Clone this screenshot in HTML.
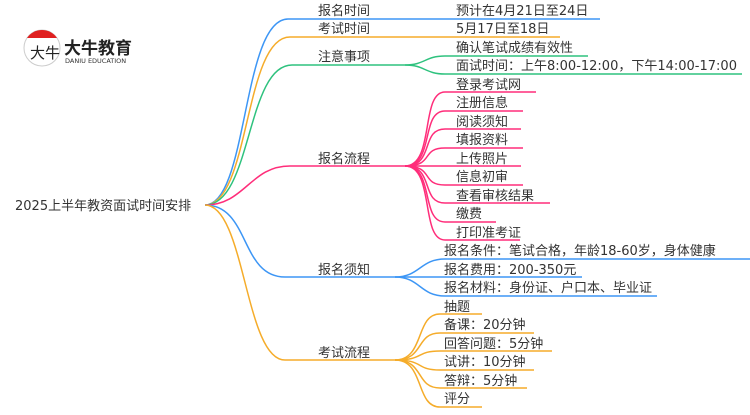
<!DOCTYPE html>
<html><head><meta charset="utf-8"><style>
body{margin:0;background:#fff;width:750px;height:410px;overflow:hidden}
svg text{font-family:"DejaVu Sans","Noto Sans CJK SC",sans-serif;fill:#333}
</style></head><body>
<svg width="750" height="410" viewBox="0 0 750 410" xmlns="http://www.w3.org/2000/svg">
<g fill="none" stroke-width="1.5">
<path d="M205,205 C248,205 242,19 288,19 H600" stroke="#3d96f5"/>
<path d="M205,205 C250,205 244,37 290,37 H560" stroke="#f5ac2a"/>
<path d="M205,205 C252,205 246,65 292,65 H405" stroke="#2ec27e"/>
<path d="M405,65 C425,65 425,56 445,56 H588" stroke="#2ec27e"/>
<path d="M405,65 C425,65 425,74 445,74 H742" stroke="#2ec27e"/>
<path d="M205,205 C245,205 250,166 290,166 H405" stroke="#ff2d7a"/>
<g stroke="#ff2d7a">
<path d="M405,166 C435,166 420,92 445,92 H536"/>
<path d="M405,166 C435,166 420,111 445,111 H523"/>
<path d="M405,166 C435,166 420,129 445,129 H521"/>
<path d="M405,166 C435,166 420,148 445,148 H523"/>
<path d="M405,166 H521"/>
<path d="M405,166 C435,166 420,185 445,185 H523"/>
<path d="M405,166 C435,166 420,203 445,203 H550"/>
<path d="M405,166 C435,166 420,222 445,222 H496"/>
<path d="M405,166 C435,166 420,240 445,240 H520"/>
</g>
<path d="M205,205 C250,205 240,277 285,277 H395" stroke="#3d96f5"/>
<path d="M395,277 C420,277 420,259 445,259 H750" stroke="#3d96f5"/>
<path d="M395,277 H582" stroke="#3d96f5"/>
<path d="M395,277 C420,277 420,296 445,296 H657" stroke="#3d96f5"/>
<path d="M205,205 C245,205 245,360 285,360 H395" stroke="#f5ac2a"/>
<g stroke="#f5ac2a">
<path d="M395,360 C425,360 415,314 440,314 H482"/>
<path d="M395,360 C425,360 415,333 440,333 H534"/>
<path d="M395,360 C425,360 415,351 440,351 H552"/>
<path d="M395,360 C425,360 415,370 440,370 H534"/>
<path d="M395,360 C425,360 415,388 440,388 H527"/>
<path d="M395,360 C425,360 415,407 440,407 H482"/>
</g>
</g>
<g font-size="13">
<text x="318" y="15">报名时间</text>
<text x="318" y="33">考试时间</text>
<text x="318" y="61">注意事项</text>
<text x="318" y="163">报名流程</text>
<text x="318" y="274">报名须知</text>
<text x="318" y="357">考试流程</text>
<text x="456" y="15">预计在4月21日至24日</text>
<text x="456" y="33">5月17日至18日</text>
<text x="456" y="52">确认笔试成绩有效性</text>
<text x="456" y="70">面试时间：上午8:00-12:00，下午14:00-17:00</text>
<text x="456" y="89">登录考试网</text>
<text x="456" y="107">注册信息</text>
<text x="456" y="126">阅读须知</text>
<text x="456" y="144">填报资料</text>
<text x="456" y="163">上传照片</text>
<text x="456" y="181">信息初审</text>
<text x="456" y="200">查看审核结果</text>
<text x="456" y="218">缴费</text>
<text x="456" y="237">打印准考证</text>
<text x="444" y="255">报名条件：笔试合格，年龄18-60岁，身体健康</text>
<text x="444" y="274">报名费用：200-350元</text>
<text x="444" y="292">报名材料：身份证、户口本、毕业证</text>
<text x="444" y="311">抽题</text>
<text x="444" y="329">备课：20分钟</text>
<text x="444" y="348">回答问题：5分钟</text>
<text x="444" y="366">试讲：10分钟</text>
<text x="444" y="385">答辩：5分钟</text>
<text x="444" y="403">评分</text>
<text x="15" y="210" font-size="13">2025上半年教资面试时间安排</text>
</g>
<circle cx="42" cy="48" r="18" fill="#fff" stroke="#ccc"/>
<path d="M27,38 A18,18 0 0 1 57,38 Z" fill="#e02020"/>
<text x="30" y="58" font-size="15" style="fill:#222">大牛</text>
<text x="64" y="54" font-size="17" font-weight="bold" style="fill:#222">大牛教育</text>
<text x="65" y="63" font-size="6.5" style="fill:#333">DANIU EDUCATION</text>
</svg>
</body></html>
